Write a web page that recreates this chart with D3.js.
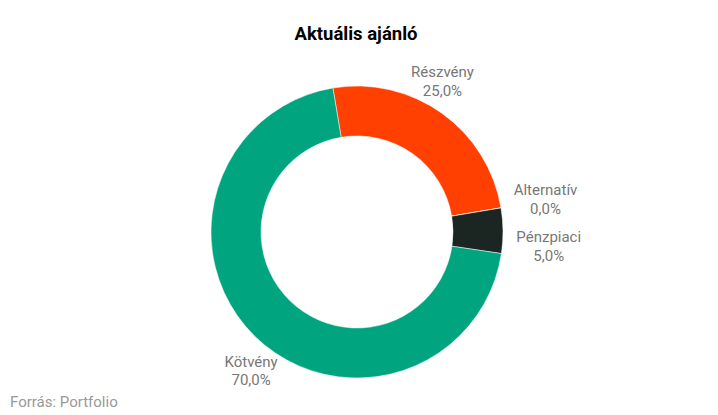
<!DOCTYPE html>
<html>
<head>
<meta charset="utf-8">
<script src="https://cdn.jsdelivr.net/npm/d3@7"></script>
<style>
  body { margin: 0; background: #fff; }
  text { font-family: Roboto, "Noto Sans", sans-serif; }
</style>
</head>
<body>
<div id="chart"></div>
<script>
// data
var categories = ["Részvény", "Alternatív", "Pénzpiaci", "Kötvény"];
var values = [25.0, 0.0, 5.0, 70.0];
var colors = ["#ff4000", "#1c2a26", "#1b2522", "#00a47f"];

var svgWidth = 718;
var svgHeight = 415;

var cx = 357, cy = 232;
var outerR = 146, innerR = 96;

var svg = d3.select("#chart")
    .append("svg")
    .attr("width", svgWidth)
    .attr("height", svgHeight);

// title
svg.append("text")
    .attr("x", 356)
    .attr("y", 40)
    .attr("text-anchor", "middle")
    .attr("font-size", "18.5px")
    .attr("font-weight", "bold")
    .attr("fill", "#000")
    .text("Aktuális ajánló");

var data = categories.map(function(c, i) {
    return { name: c, value: values[i], color: colors[i] };
});

var startAngle = -9.5 * Math.PI / 180;

var pie = d3.pie()
    .sort(null)
    .value(d => d.value)
    .startAngle(startAngle)
    .endAngle(startAngle + 2 * Math.PI);

var arc = d3.arc()
    .innerRadius(innerR)
    .outerRadius(outerR);

var arcs = pie(data);

var g = svg.append("g")
    .attr("transform", `translate(${cx}, ${cy})`);

g.selectAll("path")
    .data(arcs)
    .enter()
    .append("path")
    .attr("d", arc)
    .attr("fill", d => d.data.color)
    .attr("stroke", "#fff")
    .attr("stroke-width", 0.5);

// label placement: y on a wider ring, then pushed apart, x back on the label circle
var labelR = 160, labelRy = 185, minGap = 47;
var labels = arcs.map(function(a) {
    var mid = (a.startAngle + a.endAngle) / 2;
    var dy = -labelRy * Math.cos(mid);
    // lower labels sit a bit further down
    if (dy > 60) dy += 7;
    return {
        d: a,
        right: Math.sin(mid) >= 0,
        dy: dy
    };
});

// push overlapping labels on the right side downwards
var rightSide = labels.filter(l => l.right).sort((a, b) => a.dy - b.dy);
for (var i = 1; i < rightSide.length; i++) {
    if (rightSide[i].dy - rightSide[i - 1].dy < minGap) {
        rightSide[i].dy = rightSide[i - 1].dy + minGap;
    }
}
rightSide.forEach(function(l) { if (Math.abs(l.dy) < 60) l.dy -= 2; });

var labelGroup = svg.append("g");

labels.forEach(function(l) {
    var dy = Math.max(-labelR, Math.min(labelR, l.dy));
    var dx = Math.sqrt(labelR * labelR - dy * dy);
    var ax = cx + (l.right ? dx : -dx);
    var ay = cy + l.dy;

    var t = labelGroup.append("text")
        .attr("font-size", "15px")
        .attr("fill", "#777")
        .attr("text-anchor", "middle");

    t.append("tspan")
        .attr("x", 0)
        .attr("y", ay - 4)
        .text(l.d.data.name);
    t.append("tspan")
        .attr("x", 0)
        .attr("y", ay + 14.5)
        .text(d3.format(".1f")(l.d.data.value).replace(".", ",") + "%");

    // centre the two lines and align the block to its side
    var w = t.node().getBBox().width;
    var x = l.right ? ax + w / 2 : ax - w / 2;
    t.selectAll("tspan").attr("x", x);
});

// source
svg.append("text")
    .attr("x", 10)
    .attr("y", 407)
    .attr("font-size", "15px")
    .attr("fill", "#999")
    .text("Forrás: Portfolio");
</script>
</body>
</html>
